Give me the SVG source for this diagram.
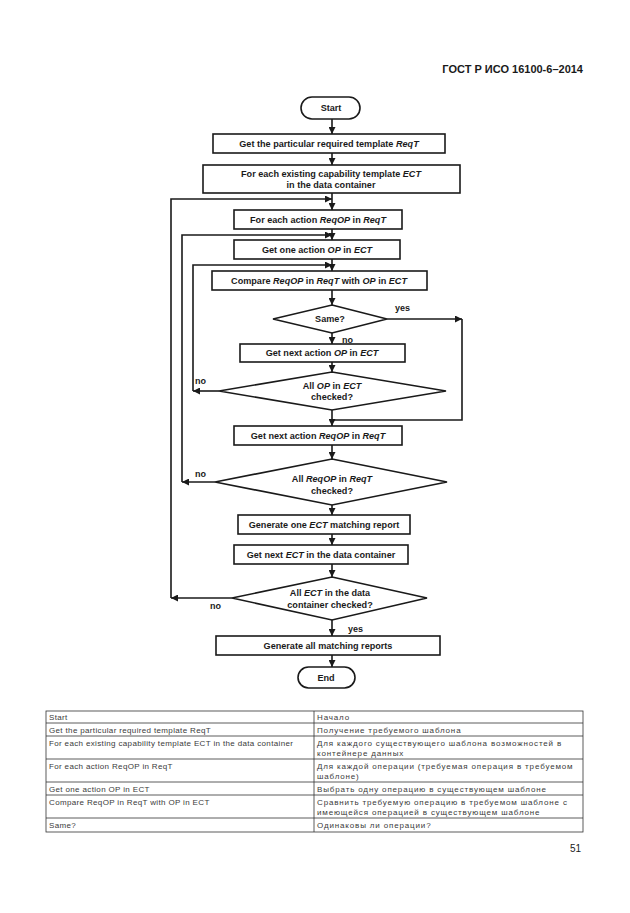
<svg xmlns="http://www.w3.org/2000/svg" width="630" height="913" viewBox="0 0 630 913">
<style>
.bg{fill:#ffffff}
.box{fill:#ffffff;stroke:#1a1a1a;stroke-width:1.6}
.ln{fill:none;stroke:#1a1a1a;stroke-width:1.6}
.t{font-family:"Liberation Sans",Arial,sans-serif;font-size:9.1px;font-weight:bold;fill:#1a1a1a;text-anchor:middle}
.i{font-style:italic}
.lbl{font-family:"Liberation Sans",Arial,sans-serif;font-size:9px;font-weight:bold;fill:#1a1a1a}
.hdr{font-family:"Liberation Sans",Arial,sans-serif;font-size:11px;font-weight:bold;fill:#1a1a1a;text-anchor:end}
.tb{fill:none;stroke:#333;stroke-width:0.8}
.tt{font-family:"Liberation Sans",Arial,sans-serif;font-size:8px;fill:#3a3a3a;letter-spacing:0.35px}
.tr{font-family:"Liberation Sans",Arial,sans-serif;font-size:8px;fill:#3a3a3a;letter-spacing:0.85px}
</style>
<defs>
<marker id="ah" viewBox="0 0 10 10" refX="10" refY="5" markerWidth="7" markerHeight="7" markerUnits="userSpaceOnUse" orient="auto">
<path d="M0,0 L10,5 L0,10 z" fill="#1a1a1a"/>
</marker>
</defs>
<rect class="bg" x="0" y="0" width="630" height="913"/>
<text class="hdr" x="583" y="73">ГОСТ Р ИСО 16100-6–2014</text>

<g id="connectors">
<line class="ln" x1="332" y1="119" x2="332" y2="134" marker-end="url(#ah)"/>
<line class="ln" x1="332" y1="153" x2="332" y2="165" marker-end="url(#ah)"/>
<line class="ln" x1="332" y1="193" x2="332" y2="210" marker-end="url(#ah)"/>
<line class="ln" x1="332" y1="229" x2="332" y2="240" marker-end="url(#ah)"/>
<line class="ln" x1="332" y1="259" x2="332" y2="271" marker-end="url(#ah)"/>
<line class="ln" x1="332" y1="290" x2="332" y2="305" marker-end="url(#ah)"/>
<line class="ln" x1="332" y1="333" x2="332" y2="344" marker-end="url(#ah)"/>
<line class="ln" x1="332" y1="362" x2="332" y2="372" marker-end="url(#ah)"/>
<line class="ln" x1="332" y1="410" x2="332" y2="426" marker-end="url(#ah)"/>
<line class="ln" x1="332" y1="445" x2="332" y2="459" marker-end="url(#ah)"/>
<line class="ln" x1="332" y1="505" x2="332" y2="515" marker-end="url(#ah)"/>
<line class="ln" x1="332" y1="534" x2="332" y2="545" marker-end="url(#ah)"/>
<line class="ln" x1="332" y1="564" x2="332" y2="577" marker-end="url(#ah)"/>
<line class="ln" x1="332" y1="620" x2="332" y2="636" marker-end="url(#ah)"/>
<line class="ln" x1="332" y1="655" x2="332" y2="667" marker-end="url(#ah)"/>
<line class="ln" x1="387" y1="319" x2="462" y2="319" marker-end="url(#ah)"/>
<polyline class="ln" points="462,319 462,420 332,420"/>
<line class="ln" x1="219" y1="391" x2="193" y2="391" marker-end="url(#ah)"/>
<polyline class="ln" points="193,391 193,265 332,265" marker-end="url(#ah)"/>
<line class="ln" x1="215" y1="482" x2="182" y2="482" marker-end="url(#ah)"/>
<polyline class="ln" points="182,482 182,235 332,235" marker-end="url(#ah)"/>
<line class="ln" x1="232" y1="598" x2="171" y2="598" marker-end="url(#ah)"/>
<polyline class="ln" points="171,598 171,199 332,199" marker-end="url(#ah)"/>
<text class="lbl" x="395" y="311">yes</text>
<text class="lbl" x="342" y="343">no</text>
<text class="lbl" x="195" y="384">no</text>
<text class="lbl" x="195" y="477">no</text>
<text class="lbl" x="210" y="609">no</text>
<text class="lbl" x="348" y="632">yes</text>
</g>

<g id="start">
<rect class="box" x="301" y="97" width="59" height="22" rx="11"/>
<text class="t" x="331" y="111">Start</text>
</g>
<g id="get-reqt">
<rect class="box" x="213" y="134" width="232" height="19"/>
<text class="t" x="329" y="146.5">Get the particular required template <tspan class="i">ReqT</tspan></text>
</g>
<g id="for-each-ect">
<rect class="box" x="203" y="165" width="257" height="28"/>
<text class="t" x="331" y="177">For each existing capability template <tspan class="i">ECT</tspan></text>
<text class="t" x="331" y="188">in the data container</text>
</g>
<g id="for-each-reqop">
<rect class="box" x="234" y="210" width="168" height="19"/>
<text class="t" x="318" y="222.5">For each action <tspan class="i">ReqOP</tspan> in <tspan class="i">ReqT</tspan></text>
</g>
<g id="get-one-op">
<rect class="box" x="234" y="240" width="166" height="19"/>
<text class="t" x="317" y="252.5">Get one action <tspan class="i">OP</tspan> in <tspan class="i">ECT</tspan></text>
</g>
<g id="compare">
<rect class="box" x="212" y="271" width="215" height="19"/>
<text class="t" x="319" y="283.5">Compare <tspan class="i">ReqOP</tspan> in <tspan class="i">ReqT</tspan> with <tspan class="i">OP</tspan> in <tspan class="i">ECT</tspan></text>
</g>
<g id="same">
<polygon class="box" points="332,305 387,319 332,333 273,319"/>
<text class="t" x="330" y="322">Same?</text>
</g>
<g id="get-next-op">
<rect class="box" x="240" y="344" width="165" height="18"/>
<text class="t" x="322" y="356">Get next action <tspan class="i">OP</tspan> in <tspan class="i">ECT</tspan></text>
</g>
<g id="all-op-checked">
<polygon class="box" points="332,372 446,391 332,410 219,391"/>
<text class="t" x="332" y="389">All <tspan class="i">OP</tspan> in <tspan class="i">ECT</tspan></text>
<text class="t" x="332" y="400">checked?</text>
</g>
<g id="get-next-reqop">
<rect class="box" x="234" y="426" width="168" height="19"/>
<text class="t" x="318" y="438.5">Get next action <tspan class="i">ReqOP</tspan> in <tspan class="i">ReqT</tspan></text>
</g>
<g id="all-reqop-checked">
<polygon class="box" points="332,459 447,482 332,505 215,482"/>
<text class="t" x="332" y="482">All <tspan class="i">ReqOP</tspan> in <tspan class="i">ReqT</tspan></text>
<text class="t" x="332" y="494">checked?</text>
</g>
<g id="gen-one-report">
<rect class="box" x="238" y="515" width="172" height="19"/>
<text class="t" x="324" y="527.5">Generate one <tspan class="i">ECT</tspan> matching report</text>
</g>
<g id="get-next-ect">
<rect class="box" x="234" y="545" width="174" height="19"/>
<text class="t" x="321" y="557.5">Get next <tspan class="i">ECT</tspan> in the data container</text>
</g>
<g id="all-ect-checked">
<polygon class="box" points="332,577 427,598 332,620 232,598"/>
<text class="t" x="330" y="596">All <tspan class="i">ECT</tspan> in the data</text>
<text class="t" x="330" y="608">container checked?</text>
</g>
<g id="gen-all-reports">
<rect class="box" x="216" y="636" width="224" height="19"/>
<text class="t" x="328" y="648.5">Generate all matching reports</text>
</g>
<g id="end">
<rect class="box" x="298" y="667" width="57" height="21" rx="10.5"/>
<text class="t" x="326" y="680.5">End</text>
</g>

<g id="table">
<rect class="tb" x="46" y="711" width="537" height="121"/>
<line class="tb" x1="314" y1="711" x2="314" y2="832"/>
<line class="tb" x1="46" y1="723" x2="583" y2="723"/>
<line class="tb" x1="46" y1="736" x2="583" y2="736"/>
<line class="tb" x1="46" y1="759" x2="583" y2="759"/>
<line class="tb" x1="46" y1="782" x2="583" y2="782"/>
<line class="tb" x1="46" y1="795" x2="583" y2="795"/>
<line class="tb" x1="46" y1="818" x2="583" y2="818"/>
<text class="tt" x="49" y="720">Start</text>
<text class="tr" x="317" y="720">Начало</text>
<text class="tt" x="49" y="733">Get the particular required template ReqT</text>
<text class="tr" x="317" y="733">Получение требуемого шаблона</text>
<text class="tt" x="49" y="746">For each existing capability template ECT in the data container</text>
<text class="tr" x="317" y="746">Для каждого существующего шаблона возможностей в</text>
<text class="tr" x="317" y="756">контейнере данных</text>
<text class="tt" x="49" y="769">For each action ReqOP in ReqT</text>
<text class="tr" x="317" y="769">Для каждой операции (требуемая операция в требуемом</text>
<text class="tr" x="317" y="779">шаблоне)</text>
<text class="tt" x="49" y="792">Get one action OP in ECT</text>
<text class="tr" x="317" y="792">Выбрать одну операцию в существующем шаблоне</text>
<text class="tt" x="49" y="805">Compare ReqOP in ReqT with OP in ECT</text>
<text class="tr" x="317" y="805">Сравнить требуемую операцию в требуемом шаблоне с</text>
<text class="tr" x="317" y="815">имеющейся операцией в существующем шаблоне</text>
<text class="tt" x="49" y="828">Same?</text>
<text class="tr" x="317" y="828">Одинаковы ли операции?</text>
</g>
<text class="lbl" x="581" y="852" text-anchor="end" style="font-weight:normal;font-size:10px">51</text>
</svg>
